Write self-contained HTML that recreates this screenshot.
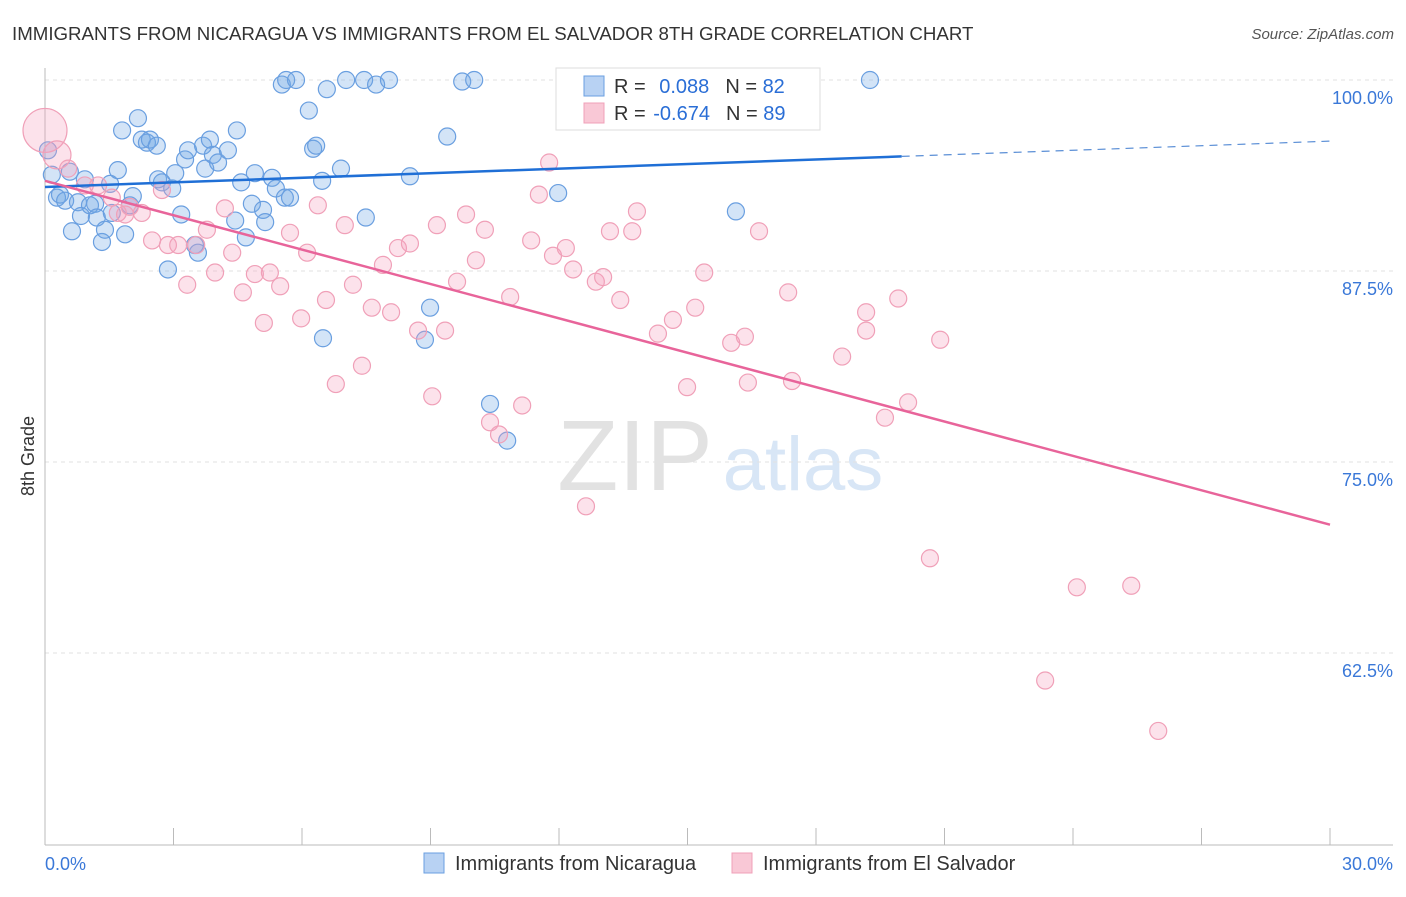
<!DOCTYPE html>
<html><head><meta charset="utf-8"><style>
body{margin:0;background:#fff;font-family:"Liberation Sans",sans-serif}
svg text{font-family:"Liberation Sans",sans-serif}
</style></head><body>
<svg id="c" width="1406" height="892" xmlns="http://www.w3.org/2000/svg">
<text x="12" y="40" font-size="18.7" fill="#333">IMMIGRANTS FROM NICARAGUA VS IMMIGRANTS FROM EL SALVADOR 8TH GRADE CORRELATION CHART</text>
<text x="1394" y="39" font-size="15" fill="#555" text-anchor="end" font-style="italic">Source: ZipAtlas.com</text>
<text x="635" y="490" font-size="100" fill="#e2e2e2" font-family="Liberation Serif" text-anchor="middle">ZIP</text>
<text x="803" y="490" font-size="76" fill="#d8e6f6" text-anchor="middle">atlas</text>
<g id="grid"></g><g id="axes"></g><g id="pts"></g><g id="lines"></g>
<text transform="translate(34,456) rotate(-90)" font-size="18" fill="#333" text-anchor="middle">8th Grade</text>
<g>
<rect x="556" y="68" width="264" height="62" fill="#fff" stroke="#ddd"/>
<rect x="584" y="76" width="20" height="20" fill="#b8d2f3" stroke="#6a9fe0"/>
<rect x="584" y="103" width="20" height="20" fill="#f9c8d6" stroke="#f0a0b8"/>
<text x="614" y="93" font-size="20" fill="#333">R = <tspan fill="#2a6ed6" dx="8">0.088</tspan><tspan fill="#333" dx="16">N = </tspan><tspan fill="#2a6ed6">82</tspan></text>
<text x="614" y="120" font-size="20" fill="#333">R = <tspan fill="#2a6ed6" dx="2">-0.674</tspan><tspan fill="#333" dx="16">N = </tspan><tspan fill="#2a6ed6">89</tspan></text>
</g>
<g>
<rect x="424" y="853" width="20" height="20" fill="#b8d2f3" stroke="#6a9fe0"/>
<text x="455" y="870" font-size="20" fill="#333">Immigrants from Nicaragua</text>
<rect x="732" y="853" width="20" height="20" fill="#f9c8d6" stroke="#f0a0b8"/>
<text x="763" y="870" font-size="20" fill="#333">Immigrants from El Salvador</text>
</g>
</svg>
<script>
const yTicks=[100,87.5,75,62.5];
const yTickLabels=["100.0%","87.5%","75.0%","62.5%"];
const xEndLabels=["0.0%","30.0%"];
const blueX=[0.07,0.16,0.28,0.35,0.47,0.58,0.63,0.77,0.84,0.93,1.05,1.17,1.21,1.33,1.40,1.52,1.56,1.70,1.80,1.87,1.98,2.05,2.17,2.26,2.38,2.45,2.61,2.64,2.73,2.87,2.97,3.04,3.18,3.27,3.34,3.50,3.57,3.69,3.74,3.85,3.92,4.04,4.27,4.44,4.48,4.58,4.69,4.83,4.90,5.09,5.14,5.30,5.39,5.53,5.60,5.72,5.63,5.86,6.16,6.26,6.33,6.47,6.49,6.58,6.91,7.03,7.45,7.49,7.73,8.03,8.52,8.87,8.99,9.39,9.74,10.02,10.39,10.79,11.98,16.13,19.26];
const blueY=[95.4,93.8,92.3,92.5,92.1,94.0,90.1,92.0,91.1,93.5,91.8,91.9,91.0,89.4,90.2,93.2,91.3,94.1,96.7,89.9,91.8,92.4,97.5,96.1,95.9,96.1,95.7,93.5,93.3,87.6,92.9,93.9,91.2,94.8,95.4,89.2,88.7,95.7,94.2,96.1,95.1,94.6,95.4,90.8,96.7,93.3,89.7,91.9,93.9,91.5,90.7,93.6,92.9,99.7,92.3,92.3,100.0,100.0,98.0,95.5,95.7,93.4,83.1,99.4,94.2,100.0,100.0,91.0,99.7,100.0,93.7,83.0,85.1,96.3,99.9,100.0,78.8,76.4,92.6,91.4,100.0];
const pinkX=[0,0.28,0.54,0.93,1.24,1.56,1.70,1.87,1.98,2.26,2.50,2.73,2.87,3.11,3.32,3.53,3.78,3.97,4.20,4.37,4.62,4.90,5.11,5.25,5.49,5.72,5.98,6.12,6.37,6.56,6.79,7.00,7.19,7.40,7.63,7.89,8.08,8.24,8.52,8.71,9.04,9.15,9.34,9.62,9.83,10.06,10.27,10.39,10.60,10.86,11.14,11.35,11.53,11.77,11.86,12.16,12.33,12.63,12.86,13.03,13.19,13.43,13.71,13.82,14.31,14.66,14.99,15.18,15.39,15.76,16.02,16.34,16.41,16.67,17.35,17.44,18.61,19.17,19.17,19.61,19.92,20.15,20.66,20.90,23.35,24.09,25.36,25.99];
const pinkY=[96.7,95.1,94.2,93.1,93.1,92.3,91.3,91.2,91.7,91.3,89.5,92.8,89.2,89.2,86.6,89.2,90.2,87.4,91.6,88.7,86.1,87.3,84.1,87.4,86.5,90.0,84.4,88.7,91.8,85.6,80.1,90.5,86.6,81.3,85.1,87.9,84.8,89.0,89.3,83.6,79.3,90.5,83.6,86.8,91.2,88.2,90.2,77.6,76.8,85.8,78.7,89.5,92.5,94.6,88.5,89.0,87.6,72.1,86.8,87.1,90.1,85.6,90.1,91.4,83.4,84.3,79.9,85.1,87.4,98.2,82.8,83.2,80.2,90.1,86.1,80.3,81.9,84.8,83.6,77.9,85.7,78.9,68.7,83.0,60.7,66.8,66.9,57.4];
const blueTrend=[93.0,96.0];
const pinkTrend=[93.4,70.9];
const blueSolidEnd=20.0;
const NS="http://www.w3.org/2000/svg";
const X=v=>45+v/30*1285;
const Y=v=>80+(100-v)*15.28;
function mk(tag,attrs,parent){const e=document.createElementNS(NS,tag);for(const k in attrs)e.setAttribute(k,attrs[k]);parent.appendChild(e);return e;}
const grid=document.getElementById('grid'),axes=document.getElementById('axes'),pts=document.getElementById('pts'),lines=document.getElementById('lines');
yTicks.forEach((t,i)=>{
 const l=mk('line',{x1:45,x2:1393,y1:Y(t),y2:Y(t),stroke:'#e2e2e2','stroke-dasharray':'4,4'},grid);
 
 
 const tx=mk('text',{x:1393,y:Y(t)+24,'font-size':18,fill:'#3a78d8','text-anchor':'end'},axes);
 tx.textContent=yTickLabels[i];
 
 
});
const ax=mk('line',{x1:45,x2:1393,y1:845,y2:845,stroke:'#bbb'},axes);


const ay=mk('line',{x1:45,x2:45,y1:68,y2:845,stroke:'#bbb'},axes);


for(let i=0;i<=10;i++){
 const tk=mk('line',{x1:X(i*3),x2:X(i*3),y1:828,y2:845,stroke:'#bbb'},axes);
 
 
}
[[0,'start',45],[30,'end',1393]].forEach((d,i)=>{
 const t=mk('text',{x:d[2],y:870,'font-size':18,fill:'#3a78d8','text-anchor':d[1]},axes);
 t.textContent=xEndLabels[i];
 
 
});
blueX.forEach((x,i)=>{
 const c=mk('circle',{cx:X(x),cy:Y(blueY[i]),r:8.5,fill:'rgba(110,165,230,0.3)',stroke:'#6a9fe0','stroke-width':1.2},pts);
 
 
});
pinkX.forEach((x,i)=>{
 const r=i===0?22:(i===1?14:8.5);
 const c=mk('circle',{cx:X(x),cy:Y(pinkY[i]),r:r,fill:'rgba(245,160,190,0.3)',stroke:'#f0a0b8','stroke-width':1.2},pts);
 
 
});
const by=x=>blueTrend[0]+(blueTrend[1]-blueTrend[0])*x/30;
const b1=mk('line',{x1:X(0),y1:Y(by(0)),x2:X(blueSolidEnd),y2:Y(by(blueSolidEnd)),stroke:'#1f6fd6','stroke-width':2.5},lines);


const b2=mk('line',{x1:X(blueSolidEnd),y1:Y(by(blueSolidEnd)),x2:X(30),y2:Y(by(30)),stroke:'#5b8fd6','stroke-width':1.2,'stroke-dasharray':'8,6'},lines);


const p1=mk('line',{x1:X(0),y1:Y(pinkTrend[0]),x2:X(30),y2:Y(pinkTrend[1]),stroke:'#e8649a','stroke-width':2.5},lines);


</script>
</body></html>
